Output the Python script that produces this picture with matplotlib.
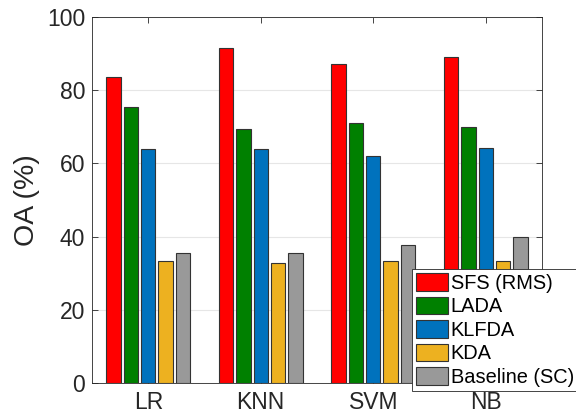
import numpy as np
import matplotlib
matplotlib.use("Agg")
import matplotlib.pyplot as plt

plt.rcParams['font.family'] = ['Liberation Sans', 'DejaVu Sans']

classifiers = ['LR', 'KNN', 'SVM', 'NB']
methods = ['SFS (RMS)', 'LADA', 'KLFDA', 'KDA', 'Baseline (SC)']
sfs_rms = [83.7, 91.6, 87.2, 89.2]
lada = [75.3, 69.4, 71.1, 69.9]
klfda = [63.9, 63.9, 62.1, 64.2]
kda = [33.2, 32.7, 33.3, 33.3]
baseline = [35.5, 35.5, 37.6, 40.0]
colors = ['#FF0000', '#008000', '#0072BD', '#EDB120', '#999999']

series = [sfs_rms, lada, klfda, kda, baseline]

fig = plt.figure(figsize=(5.76, 4.16), dpi=100)
ax = fig.add_axes([92 / 576, 1 - 383 / 416, 450 / 576, 366 / 416])

x = np.arange(1, len(classifiers) + 1)
pitch = 0.154
width = 0.127
for i, (vals, col, name) in enumerate(zip(series, colors, methods)):
    ax.bar(x + (i - 2) * pitch, vals, width, color=col, edgecolor='#333333',
           linewidth=0.8, label=name, zorder=3)

ax.set_xlim(0.5, 4.5)
ax.set_ylim(0, 100)
ax.set_yticks(range(0, 101, 20))
ax.set_xticks(x)
ax.set_xticklabels(classifiers)
ax.set_ylabel('OA (%)', fontsize=20.5, color='#262626', labelpad=5)
ax.yaxis.grid(True, color='#e6e6e6', linewidth=0.8, zorder=0)
ax.tick_params(direction='in', length=4, labelsize=16.5, colors='#262626',
               top=True, right=True, width=0.6)
ax.tick_params(axis='x', pad=6)
ax.tick_params(axis='y', pad=5)
for s in ax.spines.values():
    s.set_color('#262626')
    s.set_linewidth(0.6)

leg = ax.legend(loc='upper left', bbox_to_anchor=(411.7 / 576, 1 - 269.3 / 416),
                bbox_transform=fig.transFigure, fontsize=14.4, frameon=True,
                fancybox=False, framealpha=1, edgecolor='#262626',
                handlelength=1.6, handleheight=0.95, handletextpad=0.15,
                labelspacing=0.2, borderpad=0.2, borderaxespad=0)
leg.get_frame().set_linewidth(0.6)

fig.savefig('out.png', dpi=100)
